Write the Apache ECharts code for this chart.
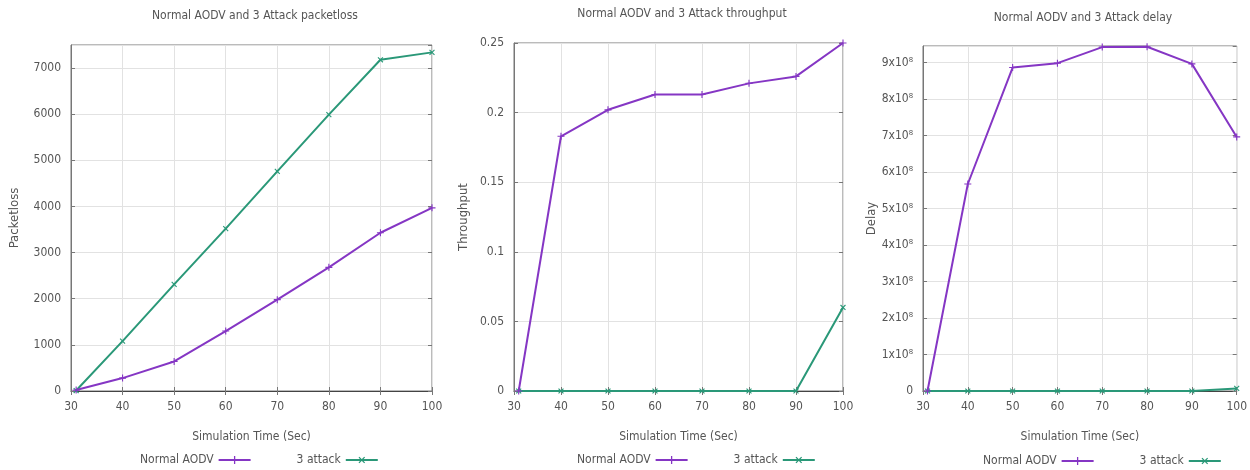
<!DOCTYPE html>
<html>
<head>
<meta charset="utf-8">
<script src="https://cdn.jsdelivr.net/npm/echarts@6/dist/echarts.min.js"></script>
<style>
  html, body { margin: 0; padding: 0; background: #fff; }
  #chart { width: 1250px; height: 470px; }
</style>
</head>
<body>
<div id="chart"></div>
<script>
// simulation time (sec) for every run
const simTime = [31, 40, 50, 60, 70, 80, 90, 100];

// packet loss
const lossNormal = [20, 280, 640, 1300, 1980, 2680, 3430, 3970];
const lossAttack = [10, 1080, 2310, 3520, 4760, 5990, 7180, 7340];

// throughput
const thrNormal = [0, 0.183, 0.202, 0.213, 0.213, 0.221, 0.226, 0.25];
const thrAttack = [0, 0, 0, 0, 0, 0, 0, 0.06];

// delay
const delayNormal = [0, 5.67e8, 8.86e8, 8.98e8, 9.42e8, 9.43e8, 8.96e8, 6.96e8];
const delayAttack = [0, 0, 0, 0, 0, 0, 0, 0.07e8];

const titles = [
  'Normal AODV and 3 Attack packetloss',
  'Normal AODV and 3 Attack throughput',
  'Normal AODV and 3 Attack delay'
];
const yNames = ['Packetloss', 'Throughput', 'Delay'];
const seriesNames = ['Normal AODV', '3 attack'];

const FONT = '"Liberation Sans Narrow", "DejaVu Sans Condensed", sans-serif';
const TEXT = '#555';
const PURPLE = '#8536c4';
const GREEN = '#2a9878';

const grids = [
  { left: 71, top: 45, width: 361, height: 346 },
  { left: 514, top: 43, width: 329, height: 348 },
  { left: 923, top: 46, width: 314, height: 345 }
];

const yRanges = [
  { max: 7500, interval: 1000, showMax: false, fmt: v => String(v) },
  { max: 0.25, interval: 0.05, showMax: true, fmt: v => String(+v.toFixed(2)) },
  { max: 9.45e8, interval: 1e8, showMax: false, fmt: v => v === 0 ? '0' : Math.round(v / 1e8) + 'x10\u2078' }
];

const plus = 'path://M0,4.2h10v1.6h-10zM4.2,0h1.6v10h-1.6z';

const chart = echarts.init(document.getElementById('chart'), null, { renderer: 'canvas' });

const xAxes = [];
const yAxes = [];
grids.forEach((g, i) => {
  g.show = true;
  g.borderColor = '#777';
  g.borderWidth = 1;
  g.backgroundColor = '#fff';
  xAxes.push({
    type: 'value', gridIndex: i, min: 30, max: 100, interval: 10,
    name: 'Simulation Time (Sec)', nameLocation: 'middle', nameGap: 40,
    nameTextStyle: { color: TEXT, fontFamily: FONT, fontSize: 12 },
    axisLine: { show: true, lineStyle: { color: '#444', width: 1.2 } },
    axisTick: { show: true, inside: true, length: 4, lineStyle: { color: '#777' } },
    axisLabel: { color: TEXT, fontFamily: FONT, fontSize: 12, margin: 10 },
    splitLine: { show: true, lineStyle: { color: '#e2e2e2' } }
  });
  xAxes.push({
    type: 'value', gridIndex: i, min: 30, max: 100, interval: 10, position: 'top',
    axisLine: { show: false },
    axisTick: { show: true, inside: true, length: 4, lineStyle: { color: '#777' } },
    axisLabel: { show: false }, splitLine: { show: false }
  });
  const r = yRanges[i];
  yAxes.push({
    type: 'value', gridIndex: i, min: 0, max: r.max, interval: r.interval,
    name: yNames[i], nameLocation: 'middle', nameRotate: 90, nameGap: [50, 44, 42][i],
    nameTextStyle: { color: TEXT, fontFamily: FONT, fontSize: 13 },
    axisLine: { show: true, lineStyle: { color: '#777' } },
    axisTick: { show: true, inside: true, length: 4, lineStyle: { color: '#777' } },
    axisLabel: { color: TEXT, fontFamily: FONT, fontSize: 12, margin: 10, showMaxLabel: r.showMax, formatter: r.fmt },
    splitLine: { show: true, lineStyle: { color: '#e2e2e2' } }
  });
  yAxes.push({
    type: 'value', gridIndex: i, min: 0, max: r.max, interval: r.interval, position: 'right',
    axisLine: { show: false },
    axisTick: { show: true, inside: true, length: 4, lineStyle: { color: '#777' } },
    axisLabel: { show: false }, splitLine: { show: false }
  });
});

const pairs = [
  [lossNormal, lossAttack],
  [thrNormal, thrAttack],
  [delayNormal, delayAttack]
];

const series = [];
pairs.forEach((p, i) => {
  p.forEach((vals, j) => {
    series.push({
      name: seriesNames[j],
      type: 'line',
      xAxisIndex: i * 2,
      yAxisIndex: i * 2,
      data: vals.map((v, k) => [simTime[k], v]),
      symbol: plus,
      symbolSize: 7,
      symbolRotate: j === 1 ? 45 : 0,
      showSymbol: true,
      color: j === 0 ? PURPLE : GREEN,
      lineStyle: { width: 2, color: j === 0 ? PURPLE : GREEN },
      animation: false,
      z: j === 0 ? 3 : 2
    });
  });
});

const titleCenters = [[250, 5], [677, 3], [1078, 7]];
const legendPos = [[135, 449], [572, 449], [978, 450]];

const option = {
  backgroundColor: '#fff',
  title: titles.map((t, i) => ({
    text: t,
    left: titleCenters[i][0],
    top: titleCenters[i][1],
    textAlign: 'center',
    textStyle: { color: TEXT, fontFamily: FONT, fontSize: 12, fontWeight: 'normal' }
  })),
  legend: legendPos.map(pos => ({
    data: seriesNames,
    left: pos[0],
    top: pos[1],
    align: 'right',
    itemWidth: 32,
    itemHeight: 10,
    itemGap: 45,
    textStyle: { color: TEXT, fontFamily: FONT, fontSize: 12 }
  })),
  grid: grids,
  xAxis: xAxes,
  yAxis: yAxes,
  series: series
};

chart.setOption(option);
</script>
</body>
</html>
